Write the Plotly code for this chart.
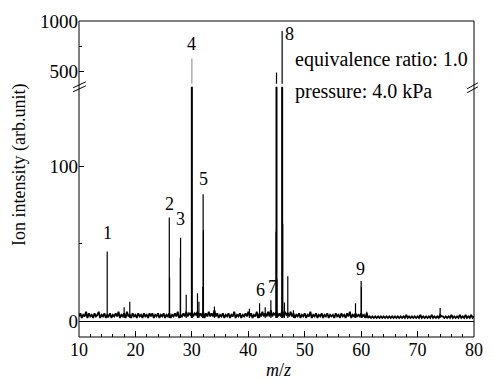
import plotly.graph_objects as go

# ---------------- data ----------------
noise_start = 10.0
noise_step = 0.25
noise = [
    3, 5, 2, 4, 3, 6, 2, 5, 3, 4, 2, 5, 3, 4, 6, 2, 4, 3, 5, 2,   # 10-15
    4, 3, 5, 2, 4, 3, 5, 3, 6, 2, 4, 3, 5, 2, 6, 3, 4, 2, 5, 3,   # 15-20
    4, 2, 5, 3, 4, 2, 5, 3, 4, 2, 5, 3, 5, 2, 4, 3, 5, 2, 4, 3,   # 20-25
    5, 2, 4, 3, 5, 2, 4, 3, 5, 3, 6, 2, 4, 3, 5, 3, 6, 3, 5, 4,   # 25-30
    6, 3, 5, 4, 6, 3, 5, 3, 6, 2, 5, 3, 6, 3, 5, 3, 7, 3, 5, 2,   # 30-35
    4, 3, 5, 2, 4, 3, 5, 2, 4, 3, 6, 2, 4, 3, 5, 2, 4, 3, 5, 3,   # 35-40
    6, 3, 5, 2, 4, 3, 6, 2, 5, 3, 6, 3, 5, 3, 6, 3, 7, 3, 5, 4,   # 40-45
    6, 3, 5, 3, 7, 3, 6, 4, 5, 3, 6, 3, 5, 2, 4, 3, 5, 2, 4, 3,   # 45-50
    5, 2, 4, 3, 6, 2, 4, 3, 5, 2, 4, 3, 5, 2, 4, 3, 5, 2, 4, 3,   # 50-55
    4, 2, 5, 3, 4, 2, 5, 3, 4, 2, 5, 3, 6, 2, 4, 3, 5, 3, 4, 3,   # 55-60
    5, 3, 4, 2, 5, 2, 3, 2, 3, 2, 3, 2, 3, 2, 3, 2, 3, 2, 3, 2,   # 60-65
    3, 2, 3, 2, 3, 2, 3, 2, 3, 2, 3, 2, 4, 2, 3, 2, 3, 2, 3, 2,   # 65-70
    3, 2, 4, 2, 3, 2, 3, 2, 3, 2, 4, 2, 3, 2, 3, 2, 4, 3, 3, 2,   # 70-75
    3, 2, 3, 2, 4, 2, 3, 2, 3, 2, 4, 2, 3, 2, 4, 2, 3, 2, 4, 2,   # 75-80
    3,
]

peak_mz = [15, 18, 19, 26, 26.05, 27.95, 28, 29, 30, 31, 31.25, 31.95, 32, 32.05,
           34, 40.2, 42, 43, 44, 44.92, 45, 45.08, 46, 46.1, 46.4, 47, 48,
           59, 60, 60.05, 61, 74]
peak_int = [45, 9, 12.5, 67, 28, 41, 54, 17, 630, 18, 12.5, 22, 82, 59,
            9.5, 8, 11.5, 9, 13.5, 58, 493, 27, 902, 63, 12, 29, 7,
            11.5, 26, 22, 6, 8.5]
peak_base = 2

label_text = ["1", "2", "3", "4", "5", "6", "7", "8", "9"]
label_mz = [15.0, 26.1, 28.0, 29.95, 32.0, 42.1, 44.3, 47.3, 59.9]
label_val = [57, 76, 66, 775, 92, 20, 22, 872, 34]
label_axis = ["y", "y", "y", "y2", "y", "y", "y", "y2", "y"]

x_ticks = [10, 20, 30, 40, 50, 60, 70, 80]
x_minor = [12, 14, 16, 18, 22, 24, 26, 28, 32, 34, 36, 38, 42, 44, 46, 48,
           52, 54, 56, 58, 62, 64, 66, 68, 72, 74, 76, 78]
y_low_ticks = [0, 100]
y_low_minor = [50]
y_high_ticks = [500, 1000]
y_high_minor = [750]

# ---------------- layout geometry ----------------
W, H = 494, 380
L, R, T, B = 79, 483, 20, 337
pw, ph = R - L, B - T


def px(x):
    return (x - L) / pw


def py(y):
    return (B - y) / ph


FONT = "Liberation Serif"
low_top = py(86)
high_bot = py(83)

fig = go.Figure()

# noise baseline
noise_x = [noise_start + i * noise_step for i in range(len(noise))]
fig.add_trace(go.Scatter(x=noise_x, y=noise, mode="lines",
                         line=dict(color="black", width=1.8),
                         xaxis="x", yaxis="y", hoverinfo="skip"))

# peak sticks (lower and upper panels)
thin_x, thin_y, thick_x, thick_y = [], [], [], []
up_x, up_y, up_gx, up_gy = [], [], [], []
for m, v in zip(peak_mz, peak_int):
    if v > 150:
        thick_x += [m, m, None]
        thick_y += [peak_base, v, None]
        if 550 < v < 700:
            up_gx += [m, m, None]
            up_gy += [peak_base, v, None]
        else:
            up_x += [m, m, None]
            up_y += [peak_base, v, None]
    else:
        thin_x += [m, m, None]
        thin_y += [peak_base, v, None]

fig.add_trace(go.Scatter(x=thin_x, y=thin_y, mode="lines",
                         line=dict(color="black", width=1.2),
                         xaxis="x", yaxis="y", hoverinfo="skip"))
fig.add_trace(go.Scatter(x=thick_x, y=thick_y, mode="lines",
                         line=dict(color="black", width=2),
                         xaxis="x", yaxis="y", hoverinfo="skip"))
fig.add_trace(go.Scatter(x=up_x, y=up_y, mode="lines",
                         line=dict(color="black", width=1.2),
                         xaxis="x2", yaxis="y2", hoverinfo="skip"))
fig.add_trace(go.Scatter(x=up_gx, y=up_gy, mode="lines",
                         line=dict(color="#9a9a9a", width=1.2),
                         xaxis="x2", yaxis="y2", hoverinfo="skip"))

annotations = []
for t, m, v, ax in zip(label_text, label_mz, label_val, label_axis):
    annotations.append(dict(text=t, x=m, y=v, xref="x" if ax == "y" else "x2",
                            yref=ax, showarrow=False,
                            font=dict(family=FONT, size=18, color="black")))

annotations += [
    dict(text="equivalence ratio: 1.0", x=px(298), y=py(59), xref="paper", yref="paper",
         xanchor="left", yanchor="middle", showarrow=False,
         font=dict(family=FONT, size=20, color="black")),
    dict(text="pressure: 4.0 kPa", x=px(298), y=py(91), xref="paper", yref="paper",
         xanchor="left", yanchor="middle", showarrow=False,
         font=dict(family=FONT, size=20, color="black")),
    dict(text="Ion intensity (arb.unit)", x=px(18), y=py(164), xref="paper", yref="paper",
         xanchor="center", yanchor="middle", textangle=-90, showarrow=False,
         font=dict(family=FONT, size=18, color="black")),
    dict(text="<i>m</i>/<i>z</i>", x=px(283), y=py(370), xref="paper", yref="paper",
         xanchor="center", yanchor="middle", showarrow=False,
         font=dict(family=FONT, size=18, color="black")),
]

shapes = [
    dict(type="rect", xref="paper", yref="paper", x0=0, x1=1, y0=0, y1=1,
         line=dict(color="black", width=1)),
    # left break marks
    dict(type="line", xref="paper", yref="paper", x0=px(73), y0=py(87), x1=px(86), y1=py(81),
         line=dict(color="black", width=1)),
    dict(type="line", xref="paper", yref="paper", x0=px(73), y0=py(91), x1=px(86), y1=py(85),
         line=dict(color="black", width=1)),
    # right break marks
    dict(type="line", xref="paper", yref="paper", x0=px(476), y0=py(88), x1=px(487), y1=py(82),
         line=dict(color="black", width=1)),
    dict(type="line", xref="paper", yref="paper", x0=px(476), y0=py(92), x1=px(487), y1=py(86),
         line=dict(color="black", width=1)),
]

tickfont = dict(family=FONT, size=19, color="black")

fig.update_layout(
    width=W, height=H,
    margin=dict(l=L, r=W - R, t=T, b=H - B),
    paper_bgcolor="white", plot_bgcolor="white",
    showlegend=False,
    font=dict(family=FONT, color="black"),
    annotations=annotations,
    shapes=shapes,
    xaxis=dict(domain=[0, 1], range=[10, 80], anchor="y",
               tickvals=x_ticks, ticks="inside", ticklen=6, tickcolor="black",
               minor=dict(tickvals=x_minor, ticks="inside", ticklen=3, tickcolor="black"),
               showgrid=False, zeroline=False, showline=False,
               tickfont=dict(family=FONT, size=18, color="black")),
    xaxis2=dict(domain=[0, 1], range=[10, 80], anchor="y2", matches="x",
                showticklabels=False, ticks="", showgrid=False, zeroline=False,
                showline=False),
    yaxis=dict(domain=[0, low_top], range=[-10.3, 151.6], anchor="x",
               tickvals=y_low_ticks, ticks="inside", ticklen=5, tickcolor="black",
               minor=dict(tickvals=y_low_minor, ticks="inside", ticklen=3, tickcolor="black"),
               showgrid=False, zeroline=True, zerolinecolor="black", zerolinewidth=1,
               showline=False, tickfont=tickfont),
    yaxis2=dict(domain=[high_bot, 1], range=[382, 1000], anchor="x2",
                tickvals=y_high_ticks, ticks="inside", ticklen=5, tickcolor="black",
                minor=dict(tickvals=y_high_minor, ticks="inside", ticklen=3, tickcolor="black"),
                showgrid=False, zeroline=False, showline=False, tickfont=tickfont),
)

fig.write_html("out.html")
